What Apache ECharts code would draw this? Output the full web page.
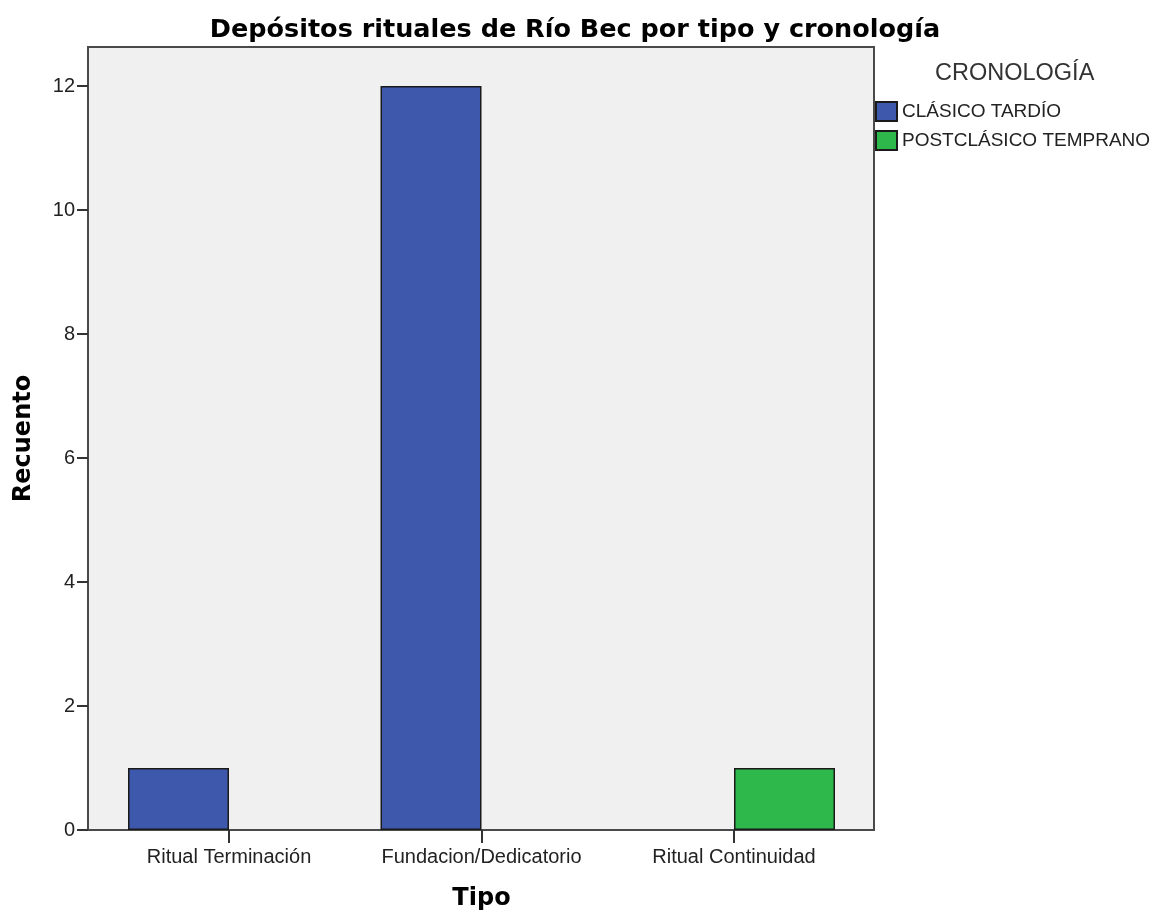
<!DOCTYPE html>
<html>
<head>
<meta charset="utf-8">
<script src="https://cdn.jsdelivr.net/npm/echarts@6/dist/echarts.min.js"></script>
<style>
  html, body { margin: 0; padding: 0; background: #fff; }
  #chart { width: 1158px; height: 918px; }
</style>
</head>
<body>
<div id="chart"></div>
<script>
// datos del gráfico
var categorias = ["Ritual Terminación", "Fundacion/Dedicatorio", "Ritual Continuidad"];
var seriesNombres = ["CLÁSICO TARDÍO", "POSTCLÁSICO TEMPRANO"];
var clasicoTardio = [1, 12, null];
var postclasicoTemprano = [null, null, 1];
var yMin = 0, yMax = 12, yPaso = 2;

var myChart = echarts.init(document.getElementById("chart"));
myChart.setOption({
  animation: false,
  title: [
    {
      text: "Depósitos rituales de Río Bec por tipo y cronología",
      left: 570,
      textAlign: "center",
      top: 12,
      textStyle: {
        color: "#000",
        fontFamily: "DejaVu Sans",
        fontWeight: "bold",
        fontSize: 25.5,
      },
    },
    {
      // titulo de la leyenda
      text: "CRONOLOGÍA",
      left: 930,
      top: 57,
      textStyle: {
        color: "#333",
        fontFamily: "Liberation Sans",
        fontWeight: "normal",
        fontSize: 23.5,
      },
    },
  ],
  legend: {
    orient: "vertical",
    left: 870,
    top: 96,
    icon: "rect",
    itemWidth: 21,
    itemHeight: 19,
    itemGap: 8,
    data: seriesNombres,
    textStyle: {
      color: "#222",
      fontFamily: "Liberation Sans",
      fontSize: 19,
    },
  },
  //grid 0 = marco con fondo gris, grid 1 = datos
  grid: [
    {
      left: 88,
      top: 47,
      right: 284,
      bottom: 88,
      show: true,
      backgroundColor: "#f0f0f0",
      borderColor: "#4a4a4a",
      borderWidth: 2,
    },
    {
      left: 102.75,
      width: 757.5,
      top: 86,
      bottom: 88,
    },
  ],
  xAxis: [
    { gridIndex: 0, type: "value", show: false },
    {
      gridIndex: 1,
      type: "category",
      data: categorias,
      name: "Tipo",
      nameLocation: "middle",
      nameGap: 57,
      nameTextStyle: {
        color: "#000",
        fontFamily: "DejaVu Sans",
        fontWeight: "bold",
        fontSize: 24,
      },
      axisLine: { show: false },
      axisTick: {
        show: true,
        interval: 0,
        alignWithLabel: true,
        length: 13,
        lineStyle: { color: "#333", width: 2 },
      },
      axisLabel: {
        interval: 0,
        margin: 17,
        color: "#222",
        fontFamily: "Liberation Sans",
        fontSize: 20,
      },
    },
  ],
  yAxis: [
    {
      // solo para el nombre, centrado en el marco
      gridIndex: 0,
      type: "value",
      name: "Recuento",
      nameLocation: "middle",
      nameGap: 52,
      nameTextStyle: {
        color: "#000",
        fontFamily: "DejaVu Sans",
        fontWeight: "bold",
        fontSize: 24,
      },
      axisLine: { show: false },
      axisTick: { show: false },
      axisLabel: { show: false },
      splitLine: { show: false },
    },
    {
      gridIndex: 1,
      type: "value",
      min: yMin,
      max: yMax,
      interval: yPaso,
      offset: 14.75,
      axisLine: { show: false },
      axisTick: {
        show: true,
        length: 11,
        lineStyle: { color: "#333", width: 2 },
      },
      axisLabel: {
        margin: 13,
        color: "#222",
        fontFamily: "Liberation Sans",
        fontSize: 20,
      },
      splitLine: { show: false },
    },
  ],
  series: [
    {
      name: seriesNombres[0],
      type: "bar",
      xAxisIndex: 1,
      yAxisIndex: 1,
      data: clasicoTardio,
      barWidth: 101,
      barGap: "0%",
      itemStyle: { color: "#3e58ac", borderColor: "#1a1a1a", borderWidth: 1.5 },
    },
    {
      name: seriesNombres[1],
      type: "bar",
      xAxisIndex: 1,
      yAxisIndex: 1,
      data: postclasicoTemprano,
      barWidth: 101,
      barGap: "0%",
      itemStyle: { color: "#2eb84c", borderColor: "#1a1a1a", borderWidth: 1.5 },
    },
  ],
});
</script>
</body>
</html>
